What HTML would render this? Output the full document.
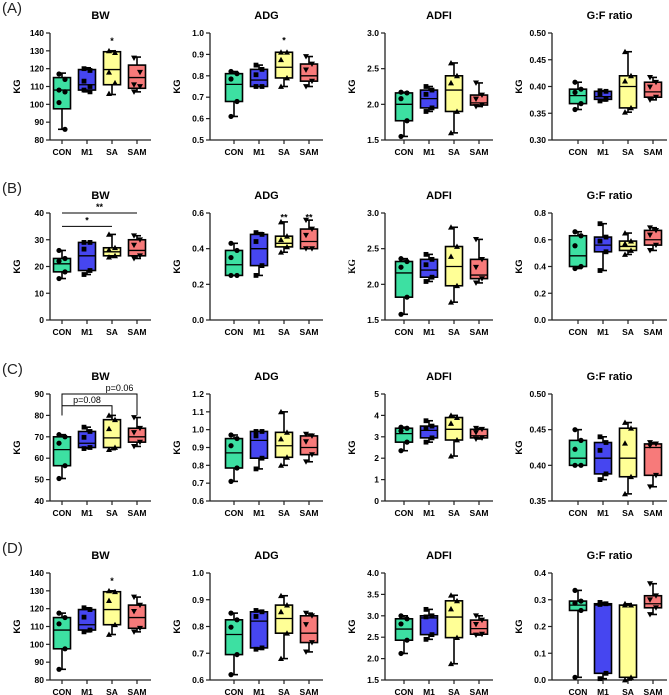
<!DOCTYPE html>
<html><head><meta charset="utf-8"><style>
body{margin:0;background:#fff}
svg{display:block;font-family:"Liberation Sans",sans-serif}
</style></head><body>
<svg id="fig" width="669" height="695" viewBox="0 0 669 695"></svg>
<script>
const groups=["CON","M1","SA","SAM"];
const colors=["#3de0a2","#4646f0","#ffff96","#f77a7a"];
const panelLetters=["(A)","(B)","(C)","(D)"];
const titles=["BW","ADG","ADFI","G:F ratio"];
// y ranges [min,max,step] per row/col
const ranges=[
 [[80,140,10],[0.5,1.0,0.1],[1.5,3.0,0.5],[0.30,0.50,0.05]],
 [[0,40,10],[0,0.6,0.2],[1.5,3.0,0.5],[0,0.8,0.2]],
 [[40,90,10],[0.6,1.2,0.1],[0,5,1],[0.35,0.50,0.05]],
 [[80,140,10],[0.6,1.0,0.1],[1.5,4.0,0.5],[0,0.4,0.1]]];
const tickDigits=[[0,1,1,2],[0,1,1,1],[0,1,0,2],[0,1,1,1]];
// box stats [min,q1,median,q3,max]
const statsA=[
 [[86,97.5,108,115,117.5],[107,108,111,119.5,120.5],[105.5,111,119.5,129.5,130],[107,109,115,122,126.5]],
 [[0.61,0.68,0.76,0.81,0.82],[0.75,0.75,0.78,0.83,0.85],[0.75,0.79,0.84,0.91,0.91],[0.75,0.775,0.80,0.855,0.89]],
 [[1.55,1.77,2.0,2.16,2.17],[1.9,1.95,2.08,2.2,2.25],[1.6,1.9,2.2,2.4,2.58],[1.97,1.99,2.02,2.13,2.3]],
 [[0.357,0.368,0.383,0.395,0.408],[0.373,0.376,0.381,0.391,0.392],[0.352,0.36,0.40,0.42,0.465],[0.375,0.38,0.39,0.408,0.417]]];
const statsB=[
 [[15.5,18,21,23,26],[17,18.5,24,29,29],[23.5,24,25.5,27,32],[23,24,26,30,31.5]],
 [[0.25,0.25,0.31,0.39,0.43],[0.25,0.305,0.40,0.48,0.49],[0.38,0.41,0.43,0.47,0.55],[0.40,0.40,0.44,0.51,0.56]],
 [[1.58,1.82,2.16,2.32,2.36],[2.04,2.1,2.2,2.35,2.42],[1.75,1.98,2.25,2.53,2.8],[2.02,2.08,2.13,2.35,2.63]],
 [[0.385,0.40,0.48,0.63,0.66],[0.37,0.51,0.56,0.62,0.72],[0.49,0.52,0.55,0.59,0.65],[0.52,0.56,0.60,0.67,0.69]]];
const statsC=[
 [[50.5,56.5,64,70,71],[64.5,65,67,72.5,74.5],[64,65,69.5,78,80],[65.5,67.5,70,74,79]],
 [[0.71,0.785,0.87,0.95,0.97],[0.78,0.84,0.94,0.99,0.99],[0.80,0.845,0.91,0.985,1.10],[0.82,0.86,0.90,0.965,0.975]],
 [[2.35,2.75,3.15,3.4,3.45],[2.75,2.95,3.3,3.5,3.75],[2.1,2.85,3.35,3.9,4.0],[2.9,2.95,3.05,3.35,3.4]],
 [[0.40,0.40,0.41,0.435,0.45],[0.38,0.388,0.41,0.432,0.44],[0.36,0.384,0.41,0.452,0.46],[0.37,0.386,0.425,0.43,0.432]]];
const statsD=[
 [[86,97.5,108,115,117.5],[107,108,111,119.5,120.5],[105.5,111,119.5,129.5,130],[107,109,115,122,126.5]],
 [[0.62,0.695,0.77,0.825,0.85],[0.715,0.72,0.82,0.855,0.86],[0.68,0.775,0.83,0.88,0.915],[0.705,0.74,0.775,0.84,0.85]],
 [[2.12,2.43,2.69,2.93,3.0],[2.45,2.56,2.95,3.0,3.15],[1.88,2.49,2.97,3.35,3.48],[2.55,2.57,2.7,2.9,3.0]],
 [[0.01,0.26,0.28,0.295,0.335],[0.005,0.025,0.28,0.285,0.29],[0,0.01,0.28,0.28,0.285],[0.245,0.27,0.285,0.315,0.36]]];
const allStats=[statsA,statsB,statsC,statsD];
// individual points
const ptsA_BW=[[117,114,108,107,101,86],[120,119,113,110,108,107],[130,129,118,112,106],[126,118,111,110,107]];
// significance marks: [row,col,group,value,text]
const stars=[[0,0,2,136,"*"],[0,1,2,0.97,"*"],[1,1,2,0.58,"**"],[1,1,3,0.58,"**"],[3,0,2,136,"*"]];
// brackets: [row,col,g1,g2,yValue,text,dropTo]
const brackets=[[1,0,0,2,35,"*",35],[1,0,0,3,40,"**",40],[2,0,0,2,84.5,"p=0.08",80],[2,0,0,3,90,"p=0.06",80]];

const axisX=[50,210,385,552];
const firstOff=[12,24,19,26];
const rowTop=[33,213,394,573];
const H=107, spacing=25, bw=17;
const NS="http://www.w3.org/2000/svg";
const svg=document.getElementById('fig');
function mk(tag,attrs,parent){const e=document.createElementNS(NS,tag);for(const k in attrs)e.setAttribute(k,attrs[k]);(parent||svg).appendChild(e);return e;}
function yScale(r,c,v){const [a,b]=ranges[r][c];return rowTop[r]+H-(v-a)/(b-a)*H;}
function xScale(c,g){return axisX[c]+firstOff[c]+g*spacing;}
function marker(g,x,y,p){
 let e;
 if(g===0)e=mk('circle',{cx:x,cy:y,r:2.6,fill:'#000'},p);
 else if(g===1)e=mk('rect',{x:x-2.4,y:y-2.4,width:4.8,height:4.8,fill:'#000'},p);
 else if(g===2)e=mk('polygon',{points:`${x},${y-3} ${x-3},${y+2.4} ${x+3},${y+2.4}`,fill:'#000'},p);
 else e=mk('polygon',{points:`${x},${y+3} ${x-3},${y-2.4} ${x+3},${y-2.4}`,fill:'#000'},p);
 
 
}
for(let r=0;r<4;r++){
 const lt=mk('text',{x:2,y:rowTop[r]-20,'font-size':15,fill:'#222'});
 lt.textContent=panelLetters[r];
 
 
 for(let c=0;c<4;c++){
  const g=mk('g',{});
  
  
  const ax=axisX[c], top=rowTop[r], bot=top+H;
  const xEnd=xScale(c,3)+14;
  const t=mk('text',{x:(ax+xEnd)/2,y:top-14,'font-size':11,'font-weight':'bold','text-anchor':'middle'},g);
  t.textContent=titles[c];
  
  
  mk('line',{x1:ax,y1:top,x2:ax,y2:bot,stroke:'#222','stroke-width':1.3},g);
  mk('line',{x1:ax,y1:bot,x2:xEnd,y2:bot,stroke:'#222','stroke-width':1.3},g);
  const [a,b,s]=ranges[r][c];
  const n=Math.round((b-a)/s);
  for(let i=0;i<=n;i++){
   const v=a+i*s, y=yScale(r,c,v);
   mk('line',{x1:ax-4,y1:y,x2:ax,y2:y,stroke:'#222','stroke-width':1.2},g);
   const tt=mk('text',{x:ax-6,y:y+3,'font-size':8.5,'font-weight':'bold','text-anchor':'end'},g);
   tt.textContent=v.toFixed(tickDigits[r][c]);
   
   
  }
  const yl=mk('text',{x:0,y:0,'font-size':9.5,'font-weight':'bold','text-anchor':'middle',transform:`translate(${ax-30},${top+H/2}) rotate(-90)`},g);
  if(r===1&&c===2){yl.setAttribute('font-family','"Liberation Serif",serif');}
  yl.textContent='KG';
  
  
  for(let k=0;k<4;k++){
   const x=xScale(c,k);
   mk('line',{x1:x,y1:bot,x2:x,y2:bot+4,stroke:'#222','stroke-width':1.2},g);
   const ct=mk('text',{x:x,y:bot+15,'font-size':8.5,'font-weight':'bold','text-anchor':'middle'},g);
   ct.textContent=groups[k];
   
   
   const st=allStats[r][c][k];
   const [mn,q1,md,q3,mx]=st.map(v=>yScale(r,c,v));
   mk('line',{x1:x,y1:mx,x2:x,y2:mn,stroke:'#000','stroke-width':1.6},g);
   mk('line',{x1:x-4,y1:mx,x2:x+4,y2:mx,stroke:'#000','stroke-width':1.6},g);
   mk('line',{x1:x-4,y1:mn,x2:x+4,y2:mn,stroke:'#000','stroke-width':1.6},g);
   const box=mk('rect',{x:x-bw/2,y:q3,width:bw,height:Math.max(q1-q3,0.5),fill:colors[k],stroke:'#000','stroke-width':1.6},g);
   
   
   mk('line',{x1:x-bw/2,y1:md,x2:x+bw/2,y2:md,stroke:'#000','stroke-width':1.3},g);
   let pts=(r===0&&c===0)?ptsA_BW[k]:[st[4],st[3],(st[2]+st[3])/2,st[1],st[0]];
   pts.forEach((v,i)=>marker(k,x+((i%2)?3:-3),yScale(r,c,v),g));
  }
 }
}
stars.forEach(([r,c,k,v,txt])=>{
 const s=mk('text',{x:xScale(c,k),y:yScale(r,c,v)+4,'font-size':9,'font-weight':'bold','text-anchor':'middle'});
 s.textContent=txt;
 
 
});
brackets.forEach(([r,c,g1,g2,v,txt,drop])=>{
 const x1=xScale(c,g1),x2=xScale(c,g2),y=yScale(r,c,v);
 const p=mk('path',{d:drop!==v?`M${x1},${yScale(r,c,drop)}V${y}H${x2}V${yScale(r,c,drop)}`:`M${x1},${y}H${x2}`,fill:'none',stroke:'#000','stroke-width':1});
 
 
 const tx=drop!==v&&g2===3?(x1+x2)/2+20:(x1+x2)/2;
 const s=mk('text',{x:tx,y:y-3,'font-size':9,'text-anchor':'middle','font-weight':txt[0]==='*'?'bold':'normal'});
 s.textContent=txt;
 
 
});
</script>
</body></html>
